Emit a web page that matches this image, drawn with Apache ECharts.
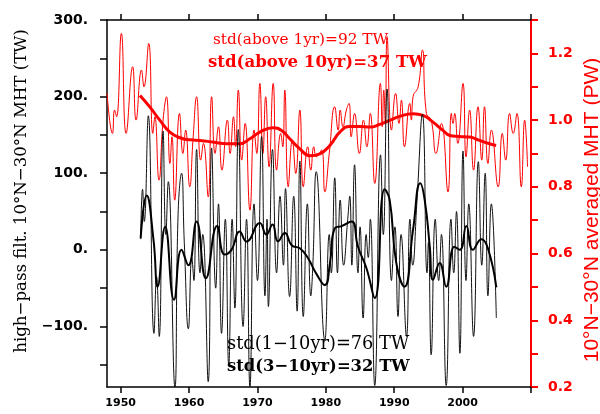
<!DOCTYPE html>
<html>
<head>
<meta charset="utf-8">
<script src="https://cdn.jsdelivr.net/npm/echarts@6/dist/echarts.min.js"></script>
<style>html,body{margin:0;padding:0;background:#fff}#c{width:600px;height:414px}</style>
</head>
<body>
<div id="c"></div>
<script>
// ---- data ----
const redYears = [1948.0,1948.8,1949.1,1949.4,1950.1,1950.8,1951.75,1952.25,1953.05,1953.4,1954.1,1954.7,1955.0,1955.6,1956.2,1956.7,1957.2,1957.5,1957.9,1958.6,1959.1,1959.5,1960.1,1960.6,1961.1,1961.7,1962.1,1962.8,1963.3,1963.8,1964.3,1964.8,1965.6,1966.0,1966.5,1966.8,1967.2,1967.7,1968.2,1968.9,1969.5,1969.9,1970.35,1970.8,1971.2,1971.7,1972.3,1972.8,1973.4,1973.7,1974.0,1974.5,1975.1,1975.6,1976.2,1976.7,1977.35,1977.8,1978.24,1978.63,1979.37,1979.85,1980.5,1981.3,1981.8,1982.1,1982.5,1983.0,1983.4,1983.7,1984.2,1984.9,1985.5,1986.0,1986.5,1987.15,1987.98,1988.25,1988.47,1988.7,1988.95,1989.6,1990.2,1990.7,1991.05,1991.5,1992.27,1992.5,1992.75,1993.5,1994.12,1994.7,1995.4,1996.1,1996.9,1997.86,1998.35,1998.6,1998.84,1999.3,2000.06,2000.5,2001.03,2001.6,2002.25,2002.8,2003.2,2003.7,2004.2,2005.2,2005.8,2006.3,2006.87,2007.4,2007.94,2008.58,2009.07,2009.5];
const redValues = [1.08,0.96,1.03,1.01,1.26,0.96,1.16,1.00,1.15,1.10,1.23,0.96,1.01,0.82,1.00,1.07,0.87,0.95,0.76,1.02,0.90,0.97,0.80,0.95,1.07,0.88,0.93,0.77,1.07,0.90,0.98,0.85,1.00,0.90,1.01,0.92,1.09,0.88,0.99,0.73,0.97,0.90,1.11,0.90,1.07,0.86,1.11,0.85,0.96,0.92,1.09,0.80,0.94,0.84,1.03,0.80,0.92,0.85,0.92,0.89,0.91,0.785,0.90,1.04,0.97,1.03,0.98,1.03,1.05,0.95,1.02,0.90,1.00,0.92,1.02,0.81,1.11,0.98,1.09,0.99,1.25,0.97,1.08,0.99,1.06,0.92,1.05,1.00,1.07,1.10,1.21,1.02,1.00,0.90,0.99,0.785,1.02,0.99,1.02,0.93,1.11,0.89,1.03,0.85,1.04,0.88,1.04,0.87,0.97,0.80,0.96,0.88,1.02,0.96,1.02,0.80,1.00,0.86];

const redSmoothYears = [1952.82,1954.28,1955.74,1957.2,1958.66,1960.13,1961.59,1963.53,1965.48,1967.43,1968.89,1970.35,1972.3,1973.52,1974.73,1976.2,1977.66,1979.12,1980.58,1982.04,1983.5,1984.96,1986.42,1987.88,1989.34,1990.8,1992.75,1994.21,1995.67,1997.13,1998.11,1999.57,2001.03,2002.49,2003.95,2004.9];
const redSmoothValues = [1.074,1.039,0.999,0.964,0.947,0.941,0.939,0.934,0.929,0.929,0.944,0.964,0.977,0.969,0.944,0.914,0.893,0.899,0.924,0.964,0.981,0.981,0.979,0.987,0.999,1.011,1.019,1.014,0.994,0.969,0.954,0.951,0.949,0.939,0.929,0.924];

const blackYears = [1952.92,1953.2,1953.45,1954.04,1954.87,1955.25,1955.64,1956.2,1956.6,1956.96,1957.93,1958.4,1958.9,1959.3,1959.9,1960.4,1960.7,1961.1,1961.6,1962.0,1962.8,1963.3,1963.9,1964.3,1964.75,1965.3,1965.8,1966.3,1966.7,1967.2,1967.9,1968.4,1968.9,1969.5,1970.0,1970.6,1971.1,1971.4,1971.6,1972.2,1972.8,1973.3,1973.8,1974.1,1974.7,1975.3,1975.8,1976.2,1976.7,1977.3,1977.8,1978.1,1978.6,1979.85,1980.5,1980.8,1981.3,1981.7,1982.1,1982.6,1983.2,1983.5,1983.8,1984.2,1984.7,1985.0,1985.45,1985.9,1986.2,1986.5,1987.15,1988.0,1988.4,1988.95,1989.6,1990.1,1990.55,1991.0,1991.8,1992.3,1992.7,1993.3,1994.12,1994.8,1995.0,1995.4,1996.0,1996.5,1996.9,1997.6,1998.3,1998.7,1999.1,1999.6,2000.06,2000.5,2000.9,2001.6,2002.3,2002.8,2003.3,2003.7,2004.2,2004.93];
const blackValues = [14,79,37,175,-109,-35,-113,155,20,89,-179,48,100,10,-103,-10,-40,131,-30,20,-172,133,-50,60,-109,40,-150,40,-76,157,-100,40,-179,60,-40,148,-60,40,-74,131,-30,70,-20,80,-61,70,-80,116,-87,60,-60,-20,102,-118,20,-30,94,-30,65,-20,40,70,-20,111,-30,30,-89,20,-10,40,-177,124,20,210,-40,30,-87,20,-113,40,-20,60,177,-30,10,-137,40,-40,20,-177,40,-30,50,-135,129,-40,60,-113,115,-20,100,-60,60,-89];

const blackSmoothYears = [1952.92,1953.8,1954.8,1955.4,1956.5,1957.8,1958.9,1959.9,1961.1,1962.46,1964.1,1965.2,1966.2,1967.4,1968.4,1970.35,1971.3,1972.2,1973.0,1974.0,1975.0,1976.2,1977.4,1978.6,1979.85,1980.6,1981.3,1982.3,1983.75,1984.7,1985.94,1987.15,1988.6,1989.34,1990.3,1991.5,1992.75,1993.8,1994.46,1995.2,1995.67,1996.65,1997.6,1998.8,1999.6,2000.55,2001.5,2002.74,2003.7,2004.93];
const blackSmoothValues = [15,71,13,-48,30,-65,0,-20,37,-37,31,-6,0,24,11,35,20,33,11,22,6,2,-11,-31,-46,-17,28,31,37,4,-24,-63,79,65,-17,-48,26,87,65,4,-39,-17,-48,4,0,31,0,14,2,-49];

const xTickValues = [1950,1960,1970,1980,1990,2000,2010];
const xLabelValues = [1950,1960,1970,1980,1990,2000];
const leftTickValues = [-150,-100,-50,0,50,100,150,200,250,300];
const leftLabelValues = [-100,0,100,200,300];
const rightTickValues = [0.2,0.3,0.4,0.5,0.6,0.7,0.8,0.9,1.0,1.1,1.2,1.3];
const rightLabelValues = [0.2,0.4,0.6,0.8,1.0,1.2];

const zip = (a,b) => a.map((v,i)=>[v,b[i]]);

const chart = echarts.init(document.getElementById('c'), null, {renderer:'canvas'});
const xAxisCommon = {
  type:'value', min:1948, max:2010, splitLine:{show:false},
  axisLine:{show:true, onZero:false, lineStyle:{color:'#000', width:1.5}},
  axisTick:{show:true, inside:false, length:6, customValues:xTickValues, lineStyle:{color:'#000', width:1.5}}
};
chart.setOption({
  animation:false,
  backgroundColor:'#fff',
  grid:{left:107, right:69, top:20, bottom:27, containLabel:false, outerBoundsMode:'none'},
  xAxis:[
    Object.assign({}, xAxisCommon, {position:'bottom',
      axisLabel:{show:true, customValues:xLabelValues, formatter:v=>String(v), color:'#000',
        fontFamily:'DejaVu Sans', fontWeight:'bold', fontSize:11, margin:11}}),
    Object.assign({}, xAxisCommon, {position:'top', axisLabel:{show:false}})
  ],
  yAxis:[
    {type:'value', position:'left', min:-179, max:300, splitLine:{show:false},
     axisLine:{show:true, onZero:false, lineStyle:{color:'#000', width:1.5}},
     axisTick:{show:true, inside:false, length:7, customValues:leftTickValues, lineStyle:{color:'#000', width:1.5}},
     axisLabel:{show:true, customValues:leftLabelValues, color:'#000', fontFamily:'DejaVu Sans', fontWeight:'bold', fontSize:14, margin:19,
       formatter:v=>(v<0?'\u2212':'')+Math.abs(v)+'.'}},
    {type:'value', position:'right', min:0.2, max:1.3, splitLine:{show:false},
     axisLine:{show:true, onZero:false, lineStyle:{color:'#ff0000', width:2}},
     axisTick:{show:true, inside:false, length:7, customValues:rightTickValues, lineStyle:{color:'#ff0000', width:2}},
     axisLabel:{show:true, customValues:rightLabelValues, color:'#ff0000', fontFamily:'DejaVu Sans', fontWeight:'bold', fontSize:14, margin:17,
       formatter:v=>v.toFixed(1)}}
  ],
  series:[
    {type:'line', xAxisIndex:0, yAxisIndex:1, data:zip(redYears,redValues), symbol:'none', smooth:0.5,
     lineStyle:{color:'#ff0000', width:1}, z:2},
    {type:'line', xAxisIndex:0, yAxisIndex:1, data:zip(redSmoothYears,redSmoothValues), symbol:'none', smooth:0.5,
     lineStyle:{color:'#ff0000', width:3}, z:3},
    {type:'line', xAxisIndex:0, yAxisIndex:0, data:zip(blackYears,blackValues), symbol:'none', smooth:0.5,
     lineStyle:{color:'#111', width:1}, z:4},
    {type:'line', xAxisIndex:0, yAxisIndex:0, data:zip(blackSmoothYears,blackSmoothValues), symbol:'none', smooth:0.5,
     lineStyle:{color:'#000', width:2}, z:5}
  ],
  graphic:[
    {type:'text', left:213, top:33, z:100, style:{text:'std(above 1yr)=92 TW', fill:'#ff0000', font:'normal 15.3px "DejaVu Serif"'}},
    {type:'text', left:208, top:54, z:100, style:{text:'std(above 10yr)=37 TW', fill:'#ff0000', font:'bold 16.6px "DejaVu Serif"'}},
    {type:'text', left:227, top:335, z:100, style:{text:'std(1\u221210yr)=76 TW', fill:'#000', font:'normal 17.8px "DejaVu Serif"'}},
    {type:'text', left:227, top:359, z:100, style:{text:'std(3\u221210yr)=32 TW', fill:'#000', font:'bold 16.4px "DejaVu Serif"'}},
    {type:'text', x:22, y:191, rotation:Math.PI/2, z:100,
     style:{text:'high\u2212pass filt. 10\u00b0N\u221230\u00b0N MHT (TW)', fill:'#000', font:'normal 16.6px "DejaVu Serif"', align:'center', verticalAlign:'middle'}},
    {type:'text', x:592, y:210, rotation:Math.PI/2, z:100,
     style:{text:'10\u00b0N\u221230\u00b0N averaged MHT (PW)', fill:'#ff0000', font:'normal 21px "Liberation Sans"', align:'center', verticalAlign:'middle'}}
  ]
});
</script>
</body>
</html>
